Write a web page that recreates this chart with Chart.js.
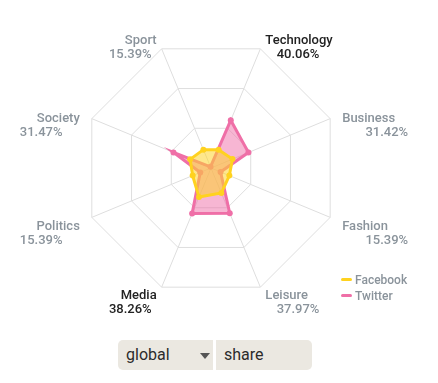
<!DOCTYPE html>
<html>
<head>
<meta charset="utf-8">
<script src="https://cdn.jsdelivr.net/npm/chart.js@4/dist/chart.umd.min.js"></script>
<style>
  body { margin: 0; background: #fff; font-family: Roboto, sans-serif; }
  #wrap { position: relative; width: 438px; height: 383px; }
  #chart { position: absolute; left: 0; top: 0; }
  .legend { position: absolute; left: 341px; top: 272px; font-size: 12px; color: #8a939b; font-weight: 500; }
  .legend div { height: 16px; line-height: 16px; white-space: nowrap; }
  .legend span { display: inline-block; width: 11px; height: 3px; border-radius: 2px; vertical-align: middle; margin-right: 3px; position: relative; top: -1px; }
  .controls { position: absolute; left: 118px; top: 340px; height: 30px; display: flex; gap: 3px; }
  .controls div { background: #ebe8e1; height: 30px; line-height: 30px; font-size: 16px; color: #2b2b2b; padding-left: 8px; box-sizing: border-box; }
  .sel { width: 95px; border-radius: 5px 0 0 5px; position: relative; }
  .sel:after { content: ''; position: absolute; left: 82px; top: 13px; border-left: 5px solid transparent; border-right: 5px solid transparent; border-top: 6px solid #555; }
  .share { width: 96px; border-radius: 0 5px 5px 0; }
</style>
</head>
<body>
<div id="wrap">
  <canvas id="chart" width="438" height="383"></canvas>
  <div class="legend">
    <div><span style="background:#ffd21f"></span>Facebook</div>
    <div><span style="background:#ef6fa7"></span>Twitter</div>
  </div>
  <div class="controls">
    <div class="sel">global</div>
    <div class="share">share</div>
  </div>
</div>
<script>
const categories = ['Technology', 'Business', 'Fashion', 'Leisure', 'Media', 'Politics', 'Society', 'Sport'];
const shareLabels = ['40.06%', '31.42%', '15.39%', '37.97%', '38.26%', '15.39%', '31.47%', '15.39%'];
const highlighted = ['Technology', 'Media'];
const facebookValues = [15.4, 18, 15.39, 21, 24.4, 15.39, 17.5, 15.39];
const twitterValues = [40.06, 31.42, 8, 37.97, 38.26, 9, 31.47, 1];

// label placement relative to each outer vertex: [nameAlign, nameDx, nameDy, pctAlign, pctDx, pctDy]
const labelLayout = [
  ['left', 5, -5, 'right', 59, 9],
  ['left', 12, 3, 'right', 78, 17],
  ['left', 12, 13, 'right', 78, 27],
  ['left', 5, 12, 'right', 59, 26],
  ['right', -5, 12, 'right', -10, 26],
  ['right', -12, 13, 'left', -72, 27],
  ['right', -12, 3, 'left', -72, 17],
  ['right', -5, -5, 'right', -10, 9]
];

const pointLabelsPlugin = {
  id: 'shareLabels',
  afterDraw(chart) {
    const scale = chart.scales.r;
    const ctx = chart.ctx;
    ctx.save();
    ctx.font = '500 13px Roboto';
    ctx.textBaseline = 'alphabetic';
    categories.forEach((name, i) => {
      const p = scale.getPointPosition(i, scale.drawingArea);
      const l = labelLayout[i];
      ctx.fillStyle = highlighted.includes(name) ? '#222' : '#8a939b';
      ctx.textAlign = l[0];
      ctx.fillText(name, p.x + l[1], p.y + l[2]);
      ctx.textAlign = l[3];
      ctx.fillText(shareLabels[i], p.x + l[4], p.y + l[5]);
    });
    ctx.restore();
  }
};

new Chart(document.getElementById('chart'), {
  type: 'radar',
  data: {
    labels: categories,
    datasets: [
      {
        label: 'Facebook',
        data: facebookValues,
        borderColor: '#ffd21f',
        backgroundColor: 'rgba(253, 212, 45, 0.55)',
        pointBackgroundColor: '#ffd21f',
        borderWidth: 3,
        pointRadius: 3,
        pointBorderWidth: 0,
        fill: true
      },
      {
        label: 'Twitter',
        data: twitterValues,
        borderColor: '#ef6fa7',
        backgroundColor: 'rgba(240, 110, 168, 0.5)',
        pointBackgroundColor: '#ef6fa7',
        borderWidth: 3,
        pointRadius: 3,
        pointBorderWidth: 0,
        fill: true
      }
    ]
  },
  options: {
    responsive: false,
    animation: false,
    layout: { padding: { left: 82, right: 98, top: 39, bottom: 86 } },
    plugins: { legend: { display: false }, tooltip: { enabled: false } },
    elements: { line: { tension: 0 } },
    scales: {
      r: {
        min: 0,
        max: 100,
        startAngle: 22.5,
        ticks: { display: false, stepSize: 100 / 3 },
        pointLabels: { display: false },
        grid: { color: '#dedede', lineWidth: 1 },
        angleLines: { color: '#dedede', lineWidth: 1 }
      }
    }
  },
  plugins: [pointLabelsPlugin]
});
</script>
</body>
</html>
